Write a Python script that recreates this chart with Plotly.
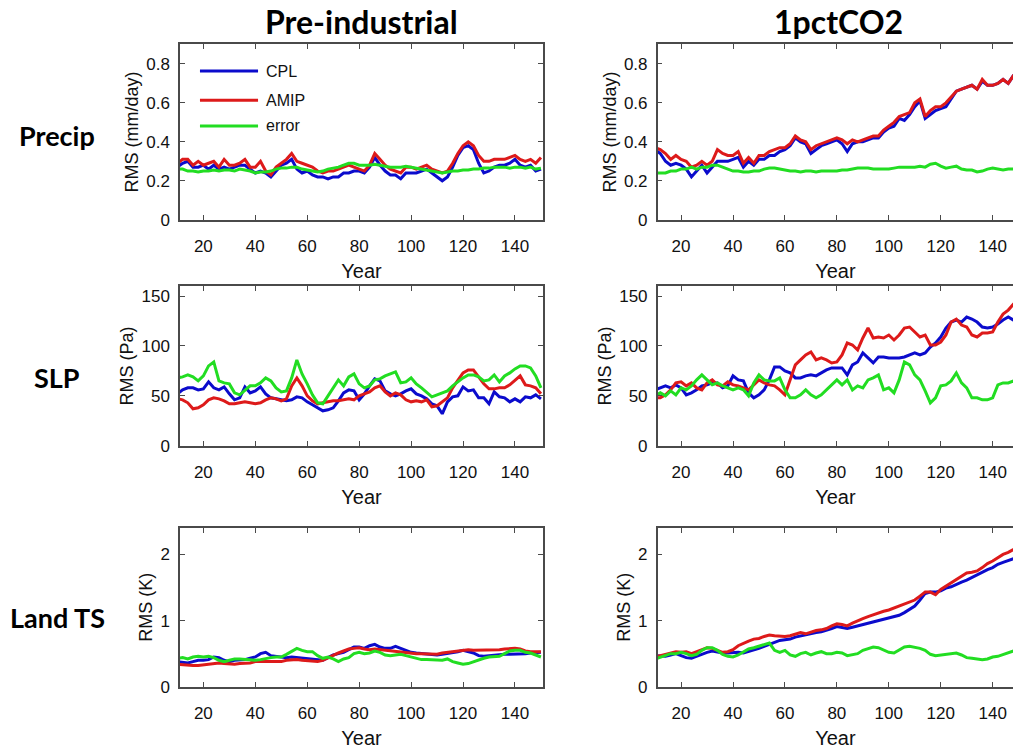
import plotly.graph_objects as go

# ---------------- data ----------------
YEARS = list(range(10, 151, 2))

PRECIP_PI_CPL = [0.27, 0.29, 0.30, 0.27, 0.27, 0.28, 0.26, 0.28, 0.26, 0.27, 0.26, 0.27, 0.28, 0.28, 0.26, 0.24,
                 0.25, 0.24, 0.22, 0.25, 0.28, 0.29, 0.31, 0.26, 0.24, 0.25, 0.23, 0.22, 0.22, 0.21, 0.22, 0.22,
                 0.24, 0.24, 0.25, 0.25, 0.24, 0.27, 0.32, 0.28, 0.25, 0.23, 0.23, 0.21, 0.24, 0.24, 0.24, 0.25,
                 0.26, 0.24, 0.22, 0.20, 0.22, 0.27, 0.33, 0.37, 0.38, 0.36, 0.29, 0.24, 0.25, 0.27, 0.28, 0.28,
                 0.29, 0.31, 0.28, 0.27, 0.28, 0.25, 0.26]
PRECIP_PI_AMIP = [0.29, 0.31, 0.31, 0.28, 0.30, 0.28, 0.29, 0.30, 0.27, 0.31, 0.28, 0.28, 0.29, 0.31, 0.27, 0.27,
                  0.30, 0.25, 0.23, 0.27, 0.29, 0.31, 0.34, 0.30, 0.29, 0.28, 0.27, 0.25, 0.24, 0.25, 0.25, 0.26,
                  0.27, 0.28, 0.27, 0.26, 0.25, 0.28, 0.34, 0.31, 0.28, 0.26, 0.25, 0.24, 0.27, 0.27, 0.26, 0.27,
                  0.28, 0.26, 0.25, 0.24, 0.25, 0.29, 0.34, 0.38, 0.40, 0.38, 0.33, 0.30, 0.30, 0.31, 0.31, 0.31,
                  0.32, 0.33, 0.31, 0.30, 0.31, 0.29, 0.32]
PRECIP_PI_ERR = [0.26, 0.26, 0.25, 0.25, 0.245, 0.25, 0.25, 0.255, 0.25, 0.255, 0.255, 0.25, 0.26, 0.255, 0.25, 0.24,
                 0.245, 0.245, 0.25, 0.26, 0.265, 0.265, 0.27, 0.27, 0.26, 0.255, 0.25, 0.245, 0.25, 0.26, 0.265,
                 0.27, 0.28, 0.29, 0.29, 0.28, 0.28, 0.28, 0.285, 0.28, 0.275, 0.27, 0.27, 0.27, 0.275, 0.27, 0.265,
                 0.26, 0.255, 0.25, 0.245, 0.24, 0.245, 0.25, 0.25, 0.255, 0.255, 0.26, 0.26, 0.265, 0.265, 0.27,
                 0.27, 0.27, 0.265, 0.27, 0.27, 0.265, 0.27, 0.26, 0.265]

PRECIP_CO2_CPL = [0.36, 0.34, 0.30, 0.28, 0.29, 0.28, 0.26, 0.22, 0.25, 0.28, 0.24, 0.27, 0.30, 0.30, 0.30, 0.31,
                  0.32, 0.27, 0.30, 0.28, 0.31, 0.31, 0.33, 0.33, 0.35, 0.36, 0.38, 0.42, 0.40, 0.39, 0.34, 0.36,
                  0.38, 0.39, 0.40, 0.41, 0.39, 0.35, 0.39, 0.40, 0.40, 0.41, 0.42, 0.42, 0.45, 0.47, 0.48, 0.52,
                  0.51, 0.54, 0.58, 0.61, 0.52, 0.54, 0.56, 0.57, 0.58, 0.62, 0.66, 0.67, 0.68, 0.69, 0.67, 0.71,
                  0.69, 0.69, 0.70, 0.72, 0.70, 0.74, 0.75]
PRECIP_CO2_AMIP = [0.37, 0.36, 0.34, 0.31, 0.33, 0.31, 0.30, 0.27, 0.28, 0.30, 0.28, 0.30, 0.36, 0.34, 0.33, 0.33,
                   0.35, 0.29, 0.32, 0.29, 0.33, 0.33, 0.35, 0.36, 0.37, 0.37, 0.39, 0.43, 0.41, 0.40, 0.36, 0.38,
                   0.39, 0.40, 0.41, 0.42, 0.41, 0.39, 0.41, 0.40, 0.41, 0.42, 0.43, 0.43, 0.46, 0.48, 0.50, 0.53,
                   0.54, 0.55, 0.60, 0.62, 0.53, 0.56, 0.58, 0.58, 0.60, 0.63, 0.66, 0.67, 0.68, 0.69, 0.67, 0.72,
                   0.69, 0.69, 0.70, 0.72, 0.70, 0.74, 0.76]
PRECIP_CO2_ERR = [0.24, 0.24, 0.24, 0.25, 0.25, 0.26, 0.26, 0.27, 0.26, 0.27, 0.27, 0.28, 0.28, 0.27, 0.26, 0.25,
                  0.25, 0.245, 0.245, 0.25, 0.25, 0.26, 0.265, 0.265, 0.26, 0.255, 0.25, 0.25, 0.245, 0.25, 0.25,
                  0.245, 0.25, 0.25, 0.25, 0.25, 0.255, 0.255, 0.26, 0.265, 0.265, 0.265, 0.26, 0.26, 0.26, 0.26,
                  0.265, 0.27, 0.27, 0.27, 0.27, 0.275, 0.27, 0.285, 0.29, 0.275, 0.265, 0.27, 0.275, 0.26, 0.255,
                  0.255, 0.245, 0.25, 0.26, 0.265, 0.26, 0.255, 0.26, 0.26, 0.26]

SLP_PI_CPL = [52, 56, 58, 58, 56, 57, 64, 58, 56, 59, 52, 46, 48, 59, 53, 55, 59, 52, 48, 47, 46, 45, 46, 49, 48,
              44, 41, 38, 35, 36, 38, 45, 53, 56, 55, 46, 52, 60, 67, 65, 55, 52, 50, 52, 55, 57, 52, 50, 47, 42,
              40, 32, 44, 49, 50, 59, 55, 56, 48, 48, 42, 54, 49, 48, 44, 47, 44, 49, 48, 51, 47]
SLP_PI_AMIP = [47, 46, 43, 37, 38, 41, 46, 48, 47, 45, 42, 42, 43, 44, 43, 42, 43, 46, 48, 47, 45, 47, 60, 68, 60,
               50, 45, 42, 43, 44, 45, 45, 46, 47, 46, 50, 52, 54, 58, 60, 54, 50, 53, 51, 46, 44, 45, 44, 46, 39,
               40, 44, 48, 58, 66, 73, 76, 76, 69, 62, 57, 57, 58, 58, 61, 66, 70, 61, 60, 58, 52]
SLP_PI_ERR = [68, 69, 71, 69, 65, 70, 80, 84, 65, 63, 62, 53, 51, 56, 60, 60, 63, 68, 65, 58, 54, 55, 68, 86, 72,
              62, 51, 43, 42, 50, 58, 66, 60, 69, 72, 62, 58, 60, 66, 67, 70, 72, 74, 63, 64, 68, 62, 58, 53, 49,
              51, 53, 55, 60, 64, 68, 71, 71, 69, 65, 66, 71, 64, 70, 73, 77, 80, 80, 78, 70, 58]

SLP_CO2_CPL = [56, 58, 60, 58, 61, 58, 51, 53, 56, 60, 61, 63, 63, 58, 60, 70, 66, 65, 53, 48, 51, 56, 66, 79, 79,
               75, 73, 68, 68, 70, 71, 70, 73, 76, 78, 78, 78, 71, 81, 84, 93, 88, 83, 89, 89, 88, 88, 88, 89, 91,
               93, 91, 93, 99, 103, 109, 118, 124, 126, 124, 129, 127, 124, 119, 118, 119, 122, 126, 129, 126, 124]
SLP_CO2_AMIP = [48, 48, 51, 56, 63, 64, 60, 63, 58, 56, 63, 66, 61, 60, 64, 61, 60, 58, 56, 61, 66, 63, 61, 60, 56,
                51, 66, 81, 86, 91, 94, 86, 88, 86, 83, 84, 91, 103, 101, 96, 108, 118, 108, 109, 108, 111, 106,
                111, 118, 119, 114, 109, 111, 101, 101, 104, 111, 124, 127, 121, 119, 111, 109, 113, 113, 114, 124,
                132, 136, 142, 146]
SLP_CO2_ERR = [50, 53, 50, 55, 51, 58, 56, 60, 66, 71, 66, 61, 63, 60, 58, 56, 58, 56, 50, 63, 71, 66, 65, 65, 68,
               56, 48, 48, 51, 56, 51, 48, 51, 56, 61, 66, 61, 66, 56, 60, 58, 66, 68, 71, 56, 58, 53, 66, 84, 81,
               71, 66, 55, 43, 48, 60, 61, 65, 73, 63, 58, 48, 48, 46, 46, 48, 61, 63, 63, 65, 63]

LAND_PI_CPL = [0.38, 0.37, 0.36, 0.38, 0.40, 0.40, 0.41, 0.45, 0.44, 0.40, 0.38, 0.40, 0.40, 0.41, 0.43, 0.45,
               0.50, 0.52, 0.47, 0.46, 0.45, 0.44, 0.45, 0.44, 0.43, 0.42, 0.41, 0.40, 0.40, 0.44, 0.48, 0.50,
               0.52, 0.56, 0.60, 0.60, 0.58, 0.62, 0.64, 0.60, 0.58, 0.58, 0.61, 0.58, 0.55, 0.52, 0.51, 0.50,
               0.49, 0.48, 0.48, 0.49, 0.50, 0.52, 0.53, 0.55, 0.53, 0.51, 0.47, 0.46, 0.47, 0.48, 0.48, 0.49,
               0.49, 0.49, 0.49, 0.50, 0.51, 0.51, 0.52]
LAND_PI_AMIP = [0.34, 0.33, 0.32, 0.32, 0.32, 0.33, 0.33, 0.34, 0.36, 0.35, 0.34, 0.34, 0.35, 0.35, 0.36, 0.38,
                0.38, 0.37, 0.37, 0.37, 0.38, 0.40, 0.41, 0.41, 0.40, 0.39, 0.38, 0.38, 0.40, 0.44, 0.48, 0.51,
                0.54, 0.57, 0.58, 0.59, 0.57, 0.56, 0.57, 0.56, 0.56, 0.55, 0.54, 0.53, 0.52, 0.51, 0.50, 0.50,
                0.50, 0.49, 0.49, 0.51, 0.52, 0.53, 0.55, 0.55, 0.56, 0.55, 0.55, 0.56, 0.55, 0.55, 0.56, 0.57,
                0.58, 0.58, 0.57, 0.54, 0.53, 0.53, 0.53]
LAND_PI_ERR = [0.43, 0.44, 0.42, 0.45, 0.46, 0.45, 0.46, 0.44, 0.40, 0.38, 0.40, 0.42, 0.42, 0.41, 0.40, 0.40,
               0.41, 0.43, 0.44, 0.45, 0.45, 0.49, 0.54, 0.58, 0.55, 0.53, 0.53, 0.47, 0.43, 0.45, 0.42, 0.38,
               0.42, 0.44, 0.50, 0.52, 0.50, 0.51, 0.54, 0.52, 0.48, 0.47, 0.48, 0.49, 0.47, 0.45, 0.42, 0.41,
               0.41, 0.41, 0.41, 0.40, 0.42, 0.38, 0.36, 0.34, 0.35, 0.38, 0.40, 0.43, 0.45, 0.46, 0.46, 0.50,
               0.54, 0.55, 0.55, 0.52, 0.51, 0.48, 0.45]

LAND_CO2_CPL = [0.47, 0.47, 0.46, 0.48, 0.50, 0.47, 0.44, 0.43, 0.46, 0.50, 0.52, 0.54, 0.52, 0.51, 0.51, 0.52,
                0.52, 0.51, 0.53, 0.56, 0.58, 0.61, 0.64, 0.67, 0.70, 0.71, 0.72, 0.75, 0.77, 0.78, 0.81, 0.82,
                0.83, 0.85, 0.88, 0.91, 0.90, 0.88, 0.90, 0.92, 0.94, 0.95, 0.97, 1.00, 1.02, 1.03, 1.06, 1.08,
                1.12, 1.17, 1.22, 1.31, 1.41, 1.43, 1.43, 1.45, 1.49, 1.51, 1.55, 1.58, 1.61, 1.65, 1.69, 1.74,
                1.77, 1.80, 1.85, 1.88, 1.91, 1.94, 1.96]
LAND_CO2_AMIP = [0.45, 0.47, 0.48, 0.50, 0.53, 0.52, 0.53, 0.50, 0.53, 0.57, 0.59, 0.58, 0.55, 0.52, 0.53, 0.56,
                 0.62, 0.66, 0.69, 0.72, 0.73, 0.76, 0.78, 0.77, 0.76, 0.76, 0.77, 0.80, 0.82, 0.80, 0.83, 0.85,
                 0.86, 0.88, 0.92, 0.95, 0.94, 0.92, 0.96, 1.00, 1.03, 1.06, 1.09, 1.12, 1.14, 1.16, 1.19, 1.21,
                 1.24, 1.27, 1.31, 1.37, 1.43, 1.43, 1.39, 1.47, 1.52, 1.56, 1.61, 1.67, 1.72, 1.73, 1.75, 1.80,
                 1.86, 1.90, 1.95, 2.00, 2.03, 2.08, 2.12]
LAND_CO2_ERR = [0.42, 0.45, 0.48, 0.50, 0.50, 0.52, 0.50, 0.47, 0.49, 0.55, 0.59, 0.59, 0.55, 0.49, 0.46, 0.45,
                0.48, 0.53, 0.57, 0.59, 0.61, 0.63, 0.66, 0.55, 0.52, 0.55, 0.48, 0.46, 0.50, 0.52, 0.48, 0.51,
                0.53, 0.50, 0.50, 0.52, 0.51, 0.47, 0.49, 0.50, 0.55, 0.58, 0.60, 0.59, 0.56, 0.52, 0.51, 0.56,
                0.60, 0.61, 0.60, 0.58, 0.55, 0.49, 0.47, 0.48, 0.50, 0.51, 0.51, 0.48, 0.44, 0.43, 0.42, 0.41,
                0.42, 0.45, 0.46, 0.49, 0.52, 0.54, 0.55]

SERIES_NAMES = ["CPL", "AMIP", "error"]
COL_TITLES = ["Pre-industrial", "1pctCO2"]
ROW_LABELS = ["Precip", "SLP", "Land TS"]
Y_TITLES = ["RMS (mm/day)", "RMS (Pa)", "RMS (K)"]
Y_TICKS = [[0, 0.2, 0.4, 0.6, 0.8], [0, 50, 100, 150], [0, 1, 2]]
Y_MAX = [0.9, 160, 2.4]
X_TICKS = [20, 40, 60, 80, 100, 120, 140]
X_TITLE = "Year"

PANELS = [
    [(PRECIP_PI_CPL, PRECIP_PI_AMIP, PRECIP_PI_ERR), (PRECIP_CO2_CPL, PRECIP_CO2_AMIP, PRECIP_CO2_ERR)],
    [(SLP_PI_CPL, SLP_PI_AMIP, SLP_PI_ERR), (SLP_CO2_CPL, SLP_CO2_AMIP, SLP_CO2_ERR)],
    [(LAND_PI_CPL, LAND_PI_AMIP, LAND_PI_ERR), (LAND_CO2_CPL, LAND_CO2_AMIP, LAND_CO2_ERR)],
]

# ---------------- style / layout ----------------
W, H = 1013, 753
COLORS = ["#0b0bcc", "#dd1a1a", "#22dd22"]
LINE_W = 3
AXIS_COLOR = "#4a4a4a"
FONT = "Liberation Sans"
TITLE_FONT = "Lato"

# pixel boxes of the plot areas
COL_PX = [(180, 543), (657.7, 1013)]
ROW_PX = [(45, 222.7), (290, 451.7), (535, 696)]
X_PER_PX = 120 / 311.6
X_LEFT = 11.0


def fx(px):
    return px / W


def fy(py):
    return 1 - py / H


fig = go.Figure()
layout = dict(
    width=W, height=H,
    margin=dict(l=0, r=0, t=0, b=0),
    paper_bgcolor="white", plot_bgcolor="white",
    showlegend=False,
    font=dict(family=FONT, color="#111111"),
)

annotations = []
shapes = []

for r in range(3):
    for c in range(2):
        k = r * 2 + 1 + c
        xid = "x" if k == 1 else f"x{k}"
        yid = "y" if k == 1 else f"y{k}"
        x0p, x1p = COL_PX[c]
        y0p, y1p = ROW_PX[r]
        xdom = [fx(x0p), min(1.0, fx(x1p))]
        ydom = [fy(y1p), fy(y0p)]
        xr = [X_LEFT, X_LEFT + (x1p - x0p) * X_PER_PX]
        for s in range(3):
            fig.add_trace(go.Scatter(
                x=YEARS, y=PANELS[r][c][s], mode="lines", name=SERIES_NAMES[s],
                line=dict(color=COLORS[s], width=LINE_W),
                xaxis=xid, yaxis=yid, hoverinfo="skip",
            ))
        xname = "xaxis" if k == 1 else f"xaxis{k}"
        yname = "yaxis" if k == 1 else f"yaxis{k}"
        layout[xname] = dict(
            domain=xdom, range=xr, anchor=yid,
            tickmode="array", tickvals=X_TICKS,
            ticks="inside", ticklen=5, tickcolor=AXIS_COLOR, tickwidth=1,
            showline=True, linecolor=AXIS_COLOR, linewidth=1.5,
            mirror="ticks", showgrid=False, zeroline=False,
            tickfont=dict(family=FONT, size=17, color="#111111"),
            ticklabelstandoff=10,
            title=dict(text=X_TITLE, font=dict(family=FONT, size=20, color="#111111"), standoff=9),
        )
        layout[yname] = dict(
            domain=ydom, range=[0, Y_MAX[r]], anchor=xid,
            tickmode="array", tickvals=Y_TICKS[r],
            ticks="inside", ticklen=5, tickcolor=AXIS_COLOR, tickwidth=1,
            showline=True, linecolor=AXIS_COLOR, linewidth=1.5,
            mirror="ticks" if c == 0 else False, showgrid=False, zeroline=False,
            tickfont=dict(family=FONT, size=17, color="#111111"),
            ticklabelstandoff=5,
            title=dict(text=Y_TITLES[r], font=dict(family=FONT, size=18, color="#111111"), standoff=3),
        )

# column titles
for c in range(2):
    x0p = COL_PX[c][0]
    annotations.append(dict(
        text=f"<b>{COL_TITLES[c]}</b>", xref="paper", yref="paper",
        x=fx(x0p + 181), y=fy(22), xanchor="center", yanchor="middle",
        showarrow=False, font=dict(family=TITLE_FONT, size=32, color="#000000"),
    ))
# row labels
for r in range(3):
    yc = [137, 383, 626][r]
    annotations.append(dict(
        text=f"<b>{ROW_LABELS[r]}</b>", xref="paper", yref="paper",
        x=fx(57), y=fy(yc), xanchor="center", yanchor="middle",
        showarrow=False, font=dict(family=TITLE_FONT, size=27, color="#000000"),
    ))

# legend (top-left panel)
leg_y = [0.848, 0.682, 0.535]
for s in range(3):
    shapes.append(dict(
        type="line", xref="x domain", yref="y domain",
        x0=0.055, x1=0.215, y0=leg_y[s], y1=leg_y[s],
        line=dict(color=COLORS[s], width=LINE_W),
    ))
    annotations.append(dict(
        text=SERIES_NAMES[s], xref="x domain", yref="y domain",
        x=0.232, y=leg_y[s], xanchor="left", yanchor="middle",
        showarrow=False, font=dict(family=FONT, size=16, color="#111111"),
    ))

layout["annotations"] = annotations
layout["shapes"] = shapes
fig.update_layout(**layout)

# remove the browser's default page margin so the figure sits at the window origin
fig.write_html(
    "out.html",
    config={"displayModeBar": False},
    post_script="document.body.style.margin='0px';",
)
